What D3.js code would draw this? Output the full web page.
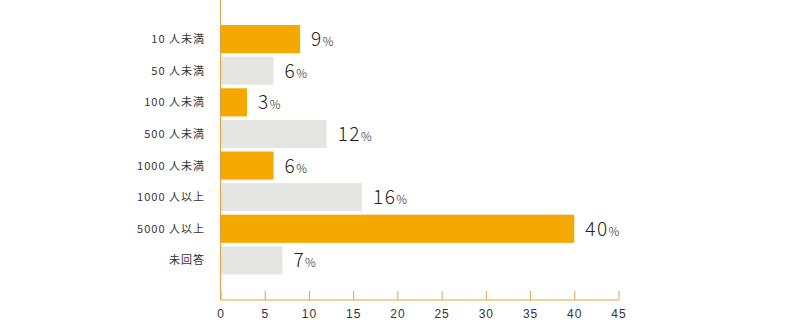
<!DOCTYPE html>
<html>
<head>
<meta charset="utf-8">
<script src="https://cdn.jsdelivr.net/npm/d3@7"></script>
<style>
  html, body { margin: 0; padding: 0; background: #fff; }
  svg { display: block; font-family: "Noto Sans CJK JP", "Noto Sans", sans-serif; }
</style>
</head>
<body>
<svg id="chart" width="800" height="327"></svg>
<script>
// Company size categories and share of respondents (%)
const categories = ["10 人未満", "50 人未満", "100 人未満", "500 人未満", "1000 人未満", "1000 人以上", "5000 人以上", "未回答"];
const values = [9, 6, 3, 12, 6, 16, 40, 7];
const xTicks = [0, 5, 10, 15, 20, 25, 30, 35, 40, 45];

const svg = d3.select("#chart");
const axisColor = "#dba64a";
const orange = "#f5a800";
const gray = "#e5e5e1";

const x = d3.scaleLinear().domain([0, 45]).range([220.5, 618.5]);
const y = d3.scaleBand().domain(categories).range([23.5, 276]).paddingInner(0.11).paddingOuter(0.05);

// bars
svg.append("g").selectAll("rect")
  .data(categories)
  .join("rect")
  .attr("x", x(0))
  .attr("y", d => y(d))
  .attr("width", (d, i) => x(values[i]) - x(0))
  .attr("height", y.bandwidth())
  .attr("fill", (d, i) => i % 2 === 0 ? orange : gray);

// value labels
const vl = svg.append("g").selectAll("text")
  .data(categories)
  .join("text")
  .attr("x", (d, i) => x(values[i]) + 11)
  .attr("y", d => y(d) + y.bandwidth() / 2 + 7)
  .attr("fill", "#222")
  .attr("font-weight", 300)
  .style("letter-spacing", "1.5px");
vl.append("tspan").attr("font-size", 19).text((d, i) => values[i]);
vl.append("tspan").attr("font-size", 12).text("%");

// category labels
svg.append("g").selectAll("text")
  .data(categories)
  .join("text")
  .attr("x", 205)
  .attr("y", d => y(d) + y.bandwidth() / 2 + 4)
  .attr("text-anchor", "end")
  .attr("font-size", 11)
  .attr("fill", "#333")
  .style("letter-spacing", "1px")
  .text(d => d);

// vertical axis line
svg.append("line")
  .attr("x1", x(0)).attr("x2", x(0))
  .attr("y1", 0).attr("y2", 300)
  .attr("stroke", axisColor).attr("stroke-width", 1.2);

// bottom axis
const xAxis = d3.axisBottom(x).tickValues(xTicks).tickSize(0).tickPadding(0);
const gx = svg.append("g").attr("transform", "translate(0,300)").call(xAxis);
gx.select(".domain").remove();
gx.selectAll(".tick text").remove();
gx.append("line")
  .attr("x1", x(0)).attr("x2", x(45))
  .attr("stroke", axisColor).attr("stroke-width", 1.2);
gx.selectAll(".tick").append("line")
  .attr("y1", -9).attr("y2", 0)
  .attr("stroke", axisColor).attr("stroke-width", 1);
gx.selectAll(".tick").append("text")
  .attr("y", 18)
  .attr("text-anchor", "middle")
  .attr("font-size", 12)
  .attr("fill", "#333")
  .style("letter-spacing", "1px")
  .text(d => d);
</script>
</body>
</html>
